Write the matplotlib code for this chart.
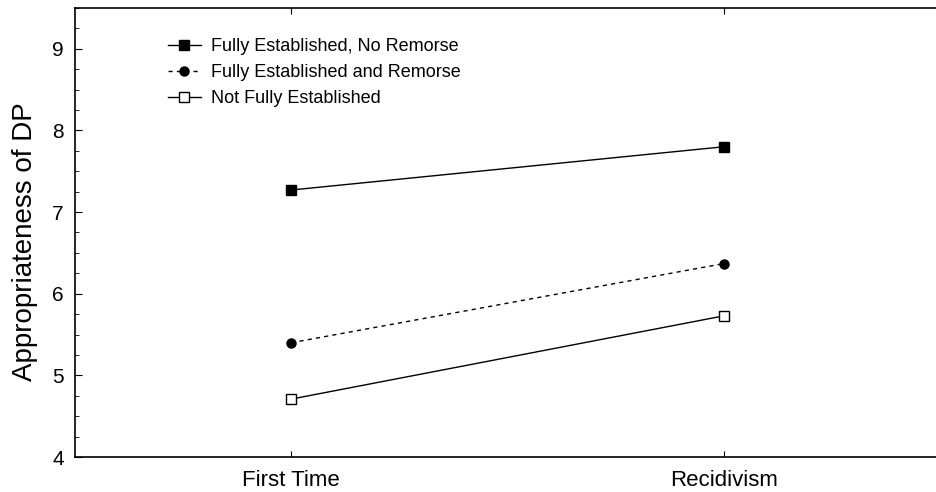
import matplotlib
matplotlib.use("Agg")
import matplotlib.pyplot as plt
from matplotlib.ticker import MultipleLocator

plt.rcParams['font.family'] = ['Liberation Sans', 'DejaVu Sans']

categories = ["First Time", "Recidivism"]
no_remorse = [7.27, 7.80]
remorse = [5.40, 6.37]
not_established = [4.71, 5.73]
labels = ["Fully Established, No Remorse", "Fully Established and Remorse", "Not Fully Established"]

fig = plt.figure(figsize=(9.36, 4.92), dpi=100)
ax = fig.add_axes([0.080, 0.071, 0.925, 0.913])
x = list(range(len(categories)))

ax.plot(x, no_remorse, color='black', lw=1, marker='s', ms=7, mfc='black', mec='black', label=labels[0])
ax.plot(x, remorse, color='black', lw=1, ls=(0, (3, 3)), marker='o', ms=6.5, mfc='black', mec='black', label=labels[1])
ax.plot(x, not_established, color='black', lw=1, marker='s', ms=7, mfc='white', mec='black', label=labels[2])

ax.set_xlim(-0.5, 1.5)
ax.set_ylim(4, 9.5)
ax.set_xticks(x)
ax.set_xticklabels(categories, fontsize=16)
ax.yaxis.set_major_locator(MultipleLocator(1))
ax.yaxis.set_minor_locator(MultipleLocator(0.25))
ax.tick_params(axis='y', which='major', direction='in', length=5, labelsize=15, pad=8)
ax.tick_params(axis='y', which='minor', direction='in', length=3)
ax.tick_params(axis='x', direction='in', length=4, top=True, pad=9)
ax.set_ylabel("Appropriateness of DP", fontsize=20)
ax.yaxis.set_label_coords(-0.043, 0.479)
for s in ['left', 'bottom', 'top']:
    ax.spines[s].set_linewidth(1.2)
ax.spines['right'].set_visible(False)

leg = ax.legend(loc='upper left', bbox_to_anchor=(0.089, 0.969), frameon=False, fontsize=13,
                handlelength=1.8, handletextpad=0.55, labelspacing=0.5)

fig.savefig("out.png", dpi=100)
